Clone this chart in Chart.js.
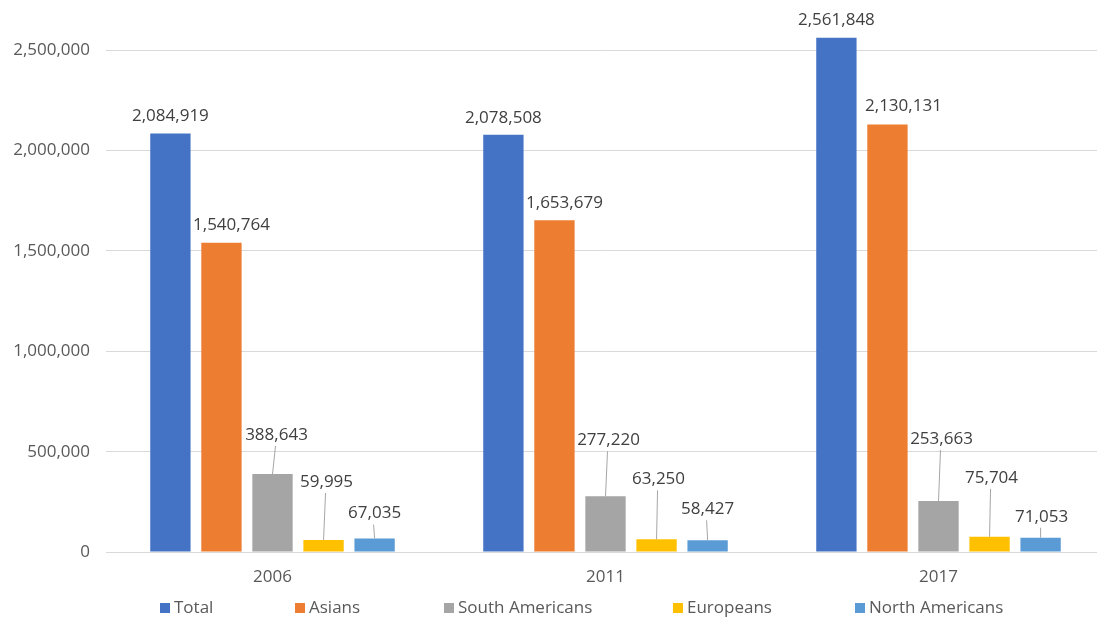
<!DOCTYPE html>
<html>
<head>
<meta charset="utf-8">
<script src="https://cdn.jsdelivr.net/npm/chart.js@4/dist/chart.umd.min.js"></script>
<style>
  html, body { margin: 0; padding: 0; background: #fff; overflow: hidden; }
  #wrap { width: 1097px; height: 618px; overflow: hidden; }
</style>
</head>
<body>
<div id="wrap"><canvas id="chart" width="1105" height="618"></canvas></div>
<script>
// data
const years = ['2006', '2011', '2017'];
const total = [2084919, 2078508, 2561848];
const asians = [1540764, 1653679, 2130131];
const southAmericans = [388643, 277220, 253663];
const europeans = [59995, 63250, 75704];
const northAmericans = [67035, 58427, 71053];
const seriesNames = ['Total', 'Asians', 'South Americans', 'Europeans', 'North Americans'];
const seriesColors = ['#4472C4', '#ED7D31', '#A5A5A5', '#FFC000', '#5B9BD5'];
const yTicks = [0, 500000, 1000000, 1500000, 2000000, 2500000];

// label placement (pixels above bar top, sideways shift), like the moved excel labels
const labelLift = [[17, 17, 18], [18, 17, 18], [39, 56, 62], [58, 60, 59], [25, 31, 21]];
const labelShift = [[0, 0, 0], [10, 10, 16], [4, 3, 3], [3, 2, 2], [0, 0, 1]];
const legendX = [160, 295, 444, 673, 855];

const FONT = '"Open Sans", sans-serif';
const fmt = v => v.toLocaleString('en-US');

const barLabels = {
  id: 'barLabels',
  afterDatasetsDraw(chart) {
    const ctx = chart.ctx;
    ctx.save();
    ctx.font = '17px ' + FONT;
    ctx.textAlign = 'center';
    ctx.textBaseline = 'middle';
    chart.data.datasets.forEach((ds, i) => {
      chart.getDatasetMeta(i).data.forEach((bar, j) => {
        const lx = bar.x + labelShift[i][j];
        const ly = bar.y - labelLift[i][j];
        if (labelLift[i][j] > 20) {
          ctx.strokeStyle = '#A6A6A6';
          ctx.lineWidth = 1;
          ctx.beginPath();
          ctx.moveTo(lx - 1, ly + 11);
          ctx.lineTo(bar.x, bar.y);
          ctx.stroke();
        }
        ctx.fillStyle = '#404040';
        ctx.fillText(fmt(ds.data[j]), lx, ly);
      });
    });
    ctx.restore();
  }
};

const bottomLegend = {
  id: 'bottomLegend',
  afterDraw(chart) {
    const ctx = chart.ctx;
    ctx.save();
    ctx.font = '17px ' + FONT;
    ctx.textAlign = 'left';
    ctx.textBaseline = 'middle';
    chart.data.datasets.forEach((ds, i) => {
      ctx.fillStyle = ds.backgroundColor;
      ctx.fillRect(legendX[i], 603, 10, 10);
      ctx.fillStyle = '#595959';
      ctx.fillText(ds.label, legendX[i] + 14, 608);
    });
    ctx.restore();
  }
};

const seriesData = [total, asians, southAmericans, europeans, northAmericans];

new Chart(document.getElementById('chart'), {
  type: 'bar',
  data: {
    labels: years,
    datasets: seriesNames.map((name, i) => ({
      label: name,
      data: seriesData[i],
      backgroundColor: seriesColors[i],
      categoryPercentage: 0.7665,
      barPercentage: 0.79
    }))
  },
  options: {
    responsive: false,
    animation: false,
    layout: { padding: { top: 10, right: 0, bottom: 26, left: 0 } },
    plugins: {
      legend: { display: false },
      tooltip: { enabled: false }
    },
    scales: {
      x: {
        grid: { display: false },
        border: { display: false },
        ticks: { color: '#595959', font: { family: FONT, size: 17 }, padding: 7 },
        afterFit(scale) { scale.height = 40; }
      },
      y: {
        min: 0,
        max: 2620000,
        grid: { color: '#D9D9D9', lineWidth: 1, drawTicks: false },
        border: { display: false },
        ticks: {
          stepSize: 500000,
          color: '#595959',
          font: { family: FONT, size: 17 },
          padding: 16,
          callback: v => fmt(v)
        },
        afterBuildTicks(scale) {
          scale.ticks = yTicks.map(v => ({ value: v }));
        },
        afterFit(scale) { scale.width = 106; }
      }
    }
  },
  plugins: [barLabels, bottomLegend]
});
</script>
</body>
</html>
